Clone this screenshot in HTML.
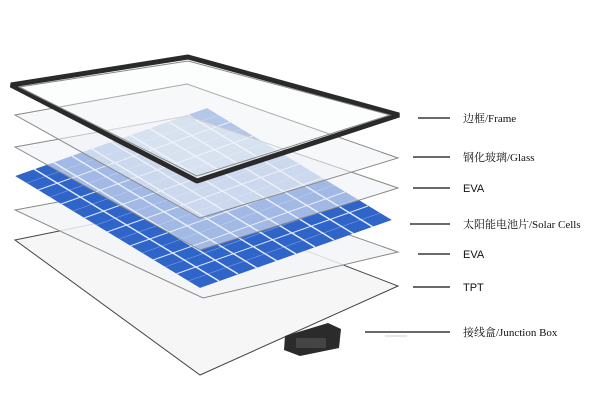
<!DOCTYPE html>
<html><head><meta charset="utf-8"><style>
html,body{margin:0;padding:0;background:#fff;}
svg{display:block}
</style></head><body>
<svg width="600" height="400" viewBox="0 0 600 400" xmlns="http://www.w3.org/2000/svg">
<defs>
<clipPath id="cc"><polygon points="15,176 207,108 392,220 200,288"/></clipPath>
</defs>
<!-- TPT -->
<polygon points="15,240 187,205 398,286 200,375" fill="#f6f6f6" stroke="#444" stroke-width="1"/>
<!-- EVA2 -->
<polygon points="15,210 187,178 398,252 203,298" fill="#f3f5f7" fill-opacity="0.85" stroke="#888" stroke-width="1"/>
<!-- cells -->
<g clip-path="url(#cc)">
<polygon points="15,176 207,108 392,220 200,288" fill="#2f64c9"/>
<g stroke="#dfe8fa" stroke-width="1">
<line x1="38" y1="190" x2="230" y2="122"/>
<line x1="61" y1="204" x2="253" y2="136"/>
<line x1="84" y1="218" x2="276" y2="150"/>
<line x1="107" y1="232" x2="299" y2="164"/>
<line x1="130" y1="246" x2="322" y2="178"/>
<line x1="153" y1="260" x2="345" y2="192"/>
<line x1="176" y1="274" x2="368" y2="206"/>
</g>
<g stroke="#7fa0e0" stroke-width="0.6">
<line x1="27" y1="183" x2="219" y2="115"/><line x1="50" y1="197" x2="242" y2="129"/>
<line x1="73" y1="211" x2="265" y2="143"/><line x1="96" y1="225" x2="288" y2="157"/>
<line x1="119" y1="239" x2="311" y2="171"/><line x1="142" y1="253" x2="334" y2="185"/>
<line x1="165" y1="267" x2="357" y2="199"/><line x1="188" y1="281" x2="380" y2="213"/>
</g>
<g stroke="#e6eefc" stroke-width="1.4">
<line x1="34" y1="169" x2="219" y2="281"/><line x1="53" y1="162" x2="238" y2="274"/>
<line x1="72" y1="156" x2="257" y2="268"/><line x1="92" y1="149" x2="277" y2="261"/>
<line x1="111" y1="142" x2="296" y2="254"/><line x1="130" y1="135" x2="315" y2="247"/>
<line x1="149" y1="128" x2="334" y2="240"/><line x1="169" y1="122" x2="354" y2="234"/>
<line x1="188" y1="115" x2="373" y2="227"/>
</g>
</g>
<!-- EVA1 -->
<polygon points="15,147 187,116 398,188 200,250" fill="#eef2f6" fill-opacity="0.6" stroke="#888" stroke-width="1"/>
<!-- glass -->
<polygon points="15,115 187,84 398,158 200,218" fill="#eef2f6" fill-opacity="0.55" stroke="#888" stroke-width="1"/>
<!-- frame -->
<polygon points="11,85 188,57 399,115 197,181" fill="#f6f8fa" fill-opacity="0.3" stroke="#2a2a2a" stroke-width="5" stroke-linejoin="bevel"/>
<polygon points="19,87 188,61 390,115 197,176" fill="none" stroke="#888" stroke-width="1"/>
<!-- junction box -->
<polygon points="285,336 328,323 341,329 339,348 300,356 284,350" fill="#2b2b2b"/>
<rect x="296" y="338" width="30" height="10" fill="#444"/>
<!-- leaders -->
<g stroke="#111" stroke-width="1.3">
<line x1="418" y1="118" x2="450" y2="118"/>
<line x1="413" y1="157" x2="450" y2="157"/>
<line x1="413" y1="188" x2="450" y2="188"/>
<line x1="410" y1="224" x2="450" y2="224"/>
<line x1="418" y1="254" x2="450" y2="254"/>
<line x1="413" y1="287" x2="450" y2="287"/>
<line x1="365" y1="332" x2="450" y2="332"/>
</g>
<line x1="385" y1="336" x2="407" y2="336" stroke="#ccc" stroke-width="1"/>
<g font-size="11" fill="#111">
<text x="463" y="122" font-family="Liberation Serif, Noto Serif CJK SC, serif">边框/Frame</text>
<text x="463" y="161" font-family="Liberation Serif, Noto Serif CJK SC, serif">钢化玻璃/Glass</text>
<text x="463" y="192" font-family="Liberation Sans, sans-serif">EVA</text>
<text x="463" y="228" font-family="Liberation Serif, Noto Serif CJK SC, serif">太阳能电池片/Solar Cells</text>
<text x="463" y="258" font-family="Liberation Sans, sans-serif">EVA</text>
<text x="463" y="291" font-family="Liberation Sans, sans-serif">TPT</text>
<text x="463" y="336" font-family="Liberation Serif, Noto Serif CJK SC, serif">接线盒/Junction Box</text>
</g>
</svg>
</body></html>
